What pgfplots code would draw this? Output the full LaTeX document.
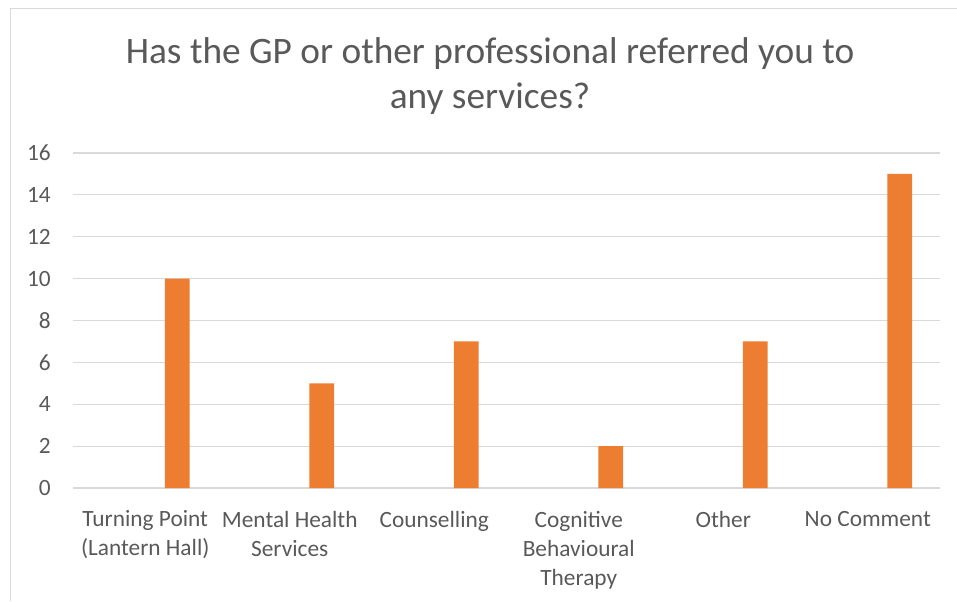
\documentclass[border=0pt]{standalone}
\usepackage{pgfplots}
\pgfplotsset{compat=1.18}
\usepackage{fontspec}
\setmainfont{Carlito}
\definecolor{barc}{HTML}{ED7D31}
\definecolor{gridc}{HTML}{D9D9D9}
\definecolor{txt}{HTML}{595959}
\begin{document}
\begin{tikzpicture}[x=0.75pt,y=0.75pt]
\useasboundingbox (0,0) rectangle (957,601);
\draw[gridc, line width=0.9pt] (10.5,0) -- (10.5,592.5) -- (957,592.5);
\node[txt, font=\fontsize{28}{33.75}\selectfont, align=center] at (490,525) {Has the GP or other professional referred you to\\any services?};
\begin{axis}[
  at={(54.75pt,84.75pt)}, anchor=south west,
  scale only axis, width=650.25pt, height=251.25pt,
  xmin=-0.5, xmax=5.5, ymin=0, ymax=16,
  ytick={0,2,...,16},
  xtick={0,...,5},
  xticklabels={{Turning Point\\(Lantern Hall)},{Mental Health\\Services},{Counselling},{Cognitive\\Behavioural\\Therapy},{Other},{No Comment}},
  ymajorgrids, grid style={gridc, line width=0.9pt},
  axis x line*=bottom, axis y line*=left,
  x axis line style={gridc, line width=0.9pt, -},
  y axis line style={draw=none},
  major tick length=0pt,
  tick style={draw=none},
  tick label style={txt, font=\fontsize{17.5}{21.75}\selectfont, inner sep=0pt},
  yticklabel style={xshift=-16.5pt},
  xticklabel style={align=center, yshift=-17pt},
  /pgf/number format/assume math mode=true,
  clip=false,
]
\addplot[ybar, bar width=18.5pt, bar shift=24pt, fill=barc, draw=none] coordinates {(0,10) (1,5) (2,7) (3,2) (4,7) (5,15)};
\end{axis}
\end{tikzpicture}
\end{document}
